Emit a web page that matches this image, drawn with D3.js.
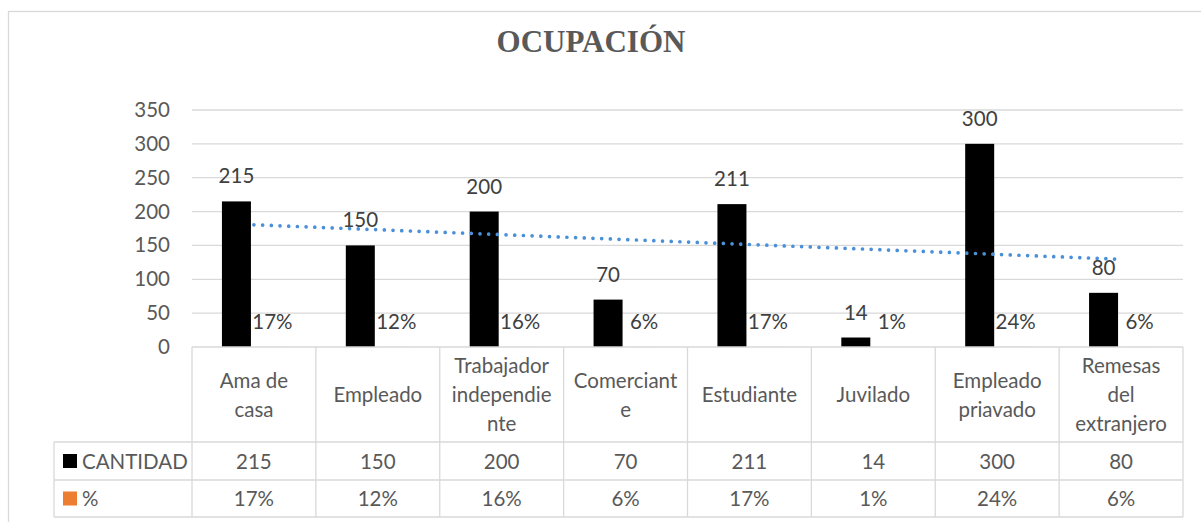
<!DOCTYPE html>
<html lang="es">
    <head>
        <meta charset="utf-8">
        <title>Ocupación</title>
        <script type="text/javascript" src="https://d3js.org/d3.v7.min.js"></script>
    </head>
	<style>
		body { margin: 0; background: #fff; }
		text { font-family: Lato, "Open Sans", sans-serif; }
	</style>
    <body>

        <script type="text/javascript">

			// data
			var categories = ["Ama de casa", "Empleado", "Trabajador independiente", "Comerciante",
			                  "Estudiante", "Juvilado", "Empleado priavado", "Remesas del extranjero"];
			// how the category names are wrapped in the table header
			var categoryLines = [["Ama de", "casa"], ["Empleado"], ["Trabajador", "independie", "nte"],
			                     ["Comerciant", "e"], ["Estudiante"], ["Juvilado"],
			                     ["Empleado", "priavado"], ["Remesas", "del", "extranjero"]];
			var cantidad = [215, 150, 200, 70, 211, 14, 300, 80];
			var porcentaje = [0.17, 0.12, 0.16, 0.06, 0.17, 0.01, 0.24, 0.06];
			var seriesNames = ["CANTIDAD", "%"];
			var seriesColors = ["#000000", "#ED7D31"];
			var yTicks = [0, 50, 100, 150, 200, 250, 300, 350];

			var w = 1201,
				h = 522,
				plotLeft = 192,
				plotRight = 1183,
				plotTop = 110,
				plotBottom = 347,
				legendLeft = 54,
				rowTops = [347, 442, 480, 517],
				textColor = "#595959",
				gridColor = "#D9D9D9";

			var svg = d3.select("body")
						.append("svg")
						.attr("width", w)
						.attr("height", h);

			// outer chart frame
			svg.append("rect")
				.attr("x", 8.5)
				.attr("y", 11.5)
				.attr("width", w)
				.attr("height", h)
				.attr("fill", "none")
				.attr("stroke", gridColor)
				.attr("stroke-width", 1.3);

			svg.append("text")
				.attr("x", 591)
				.attr("y", 52)
				.attr("text-anchor", "middle")
				.style("font-family", "'Liberation Serif', 'Times New Roman', serif")
				.style("font-weight", "bold")
				.style("font-size", "31px")
				.attr("fill", textColor)
				.text("OCUPACIÓN");

			var x = d3.scaleBand()
						.domain(categories)
						.range([plotLeft, plotRight]);

			var x1 = d3.scaleBand()
						.domain(seriesNames)
						.range([-32, 32])
						.paddingInner(6 / 35);

			var y = d3.scaleLinear()
						.domain([0, 350])
						.range([plotBottom, plotTop]);

			// gridlines
			svg.append("g")
				.selectAll("line")
				.data(yTicks.slice(1))
				.enter()
				.append("line")
				.attr("x1", plotLeft)
				.attr("x2", plotRight)
				.attr("y1", function(d) { return y(d); })
				.attr("y2", function(d) { return y(d); })
				.attr("stroke", gridColor)
				.attr("stroke-width", 1.3);

			var yAxis = svg.append("g")
							.attr("transform", "translate(" + plotLeft + ",0)")
							.call(d3.axisLeft(y).tickValues(yTicks).tickSize(0).tickPadding(22));
			yAxis.select(".domain").remove();
			yAxis.selectAll("text")
				.attr("fill", textColor)
				.style("font-family", "Lato, sans-serif")
				.style("font-size", "20.5px");

			var seriesData = [cantidad, porcentaje];

			var groups = svg.append("g")
							.selectAll("g")
							.data(categories)
							.enter()
							.append("g")
							.attr("transform", function(d) { return "translate(" + (x(d) + x.bandwidth() / 2) + ",0)"; });

			groups.selectAll("rect")
				.data(function(d, i) {
					return seriesNames.map(function(s, j) { return {s: s, j: j, v: seriesData[j][i]}; });
				})
				.enter()
				.append("rect")
				.attr("x", function(d) { return x1(d.s); })
				.attr("width", x1.bandwidth())
				.attr("y", function(d) { return y(d.v); })
				.attr("height", function(d) { return y(0) - y(d.v); })
				.attr("fill", function(d) { return seriesColors[d.j]; });

			var pctFormat = d3.format(".0%");

			groups.selectAll(".lbl")
				.data(function(d, i) {
					return seriesNames.map(function(s, j) { return {s: s, j: j, v: seriesData[j][i]}; });
				})
				.enter()
				.append("text")
				.attr("class", "lbl")
				.attr("x", function(d) { return x1(d.s) + x1.bandwidth() / 2 + (d.j == 1 ? 1 : 0); })
				.attr("y", function(d) { return y(d.v) - 18; })
				.attr("text-anchor", "middle")
				.attr("fill", "#404040")
				.style("font-size", "20.5px")
				.text(function(d) { return d.j == 1 ? pctFormat(d.v) : d.v; });

			// linear trendline for CANTIDAD
			var n = cantidad.length,
				xs = d3.range(1, n + 1),
				mx = d3.mean(xs),
				my = d3.mean(cantidad),
				slope = d3.sum(xs, function(k, i) { return (k - mx) * (cantidad[i] - my); }) /
						d3.sum(xs, function(k) { return (k - mx) * (k - mx); }),
				intercept = my - slope * mx;

			var trendLine = d3.line()
							.x(function(d, i) { return x(categories[i]) + x.bandwidth() / 2; })
							.y(function(d) { return y(intercept + slope * d); });

			svg.append("path")
				.datum(xs)
				.attr("d", trendLine)
				.attr("fill", "none")
				.attr("stroke", "#4A90D9")
				.attr("stroke-width", 3.7)
				.attr("stroke-linecap", "round")
				.attr("stroke-dasharray", "0 8.7");

			// data table below the axis
			var table = svg.append("g")
							.attr("stroke", gridColor)
							.attr("stroke-width", 1.3);

			table.append("line")
				.attr("x1", plotLeft).attr("x2", plotRight)
				.attr("y1", rowTops[0]).attr("y2", rowTops[0]);
			rowTops.slice(1).forEach(function(t) {
				table.append("line")
					.attr("x1", legendLeft).attr("x2", plotRight)
					.attr("y1", t).attr("y2", t);
			});
			table.append("line")
				.attr("x1", legendLeft).attr("x2", legendLeft)
				.attr("y1", rowTops[1]).attr("y2", rowTops[3]);
			table.selectAll(".col")
				.data(categories.concat(["end"]))
				.enter()
				.append("line")
				.attr("x1", function(d) { return d == "end" ? plotRight : x(d); })
				.attr("x2", function(d) { return d == "end" ? plotRight : x(d); })
				.attr("y1", rowTops[0])
				.attr("y2", rowTops[3]);

			// header row with wrapped category names
			var headerMid = (rowTops[0] + rowTops[1]) / 2,
				lineH = 29;
			var header = svg.append("g")
							.selectAll("text")
							.data(categories)
							.enter()
							.append("text")
							.attr("text-anchor", "middle")
							.attr("fill", textColor)
							.style("font-size", "20.5px");
			header.each(function(d, i) {
				var lines = categoryLines[i];
				var first = headerMid + 7.5 - (lines.length - 1) * lineH / 2;
				d3.select(this).selectAll("tspan")
					.data(lines)
					.enter()
					.append("tspan")
					.attr("x", x(d) + x.bandwidth() / 2)
					.attr("y", function(l, k) { return first + k * lineH; })
					.text(function(l) { return l; });
			});

			// value rows
			seriesNames.forEach(function(s, j) {
				var mid = (rowTops[j + 1] + rowTops[j + 2]) / 2;
				svg.append("rect")
					.attr("x", 63)
					.attr("y", mid - 7)
					.attr("width", 14)
					.attr("height", 14)
					.attr("fill", seriesColors[j]);
				svg.append("text")
					.attr("x", 82)
					.attr("y", mid + 7.5)
					.attr("fill", textColor)
					.style("font-size", "20.5px")
					.text(s);
				svg.append("g")
					.selectAll("text")
					.data(categories)
					.enter()
					.append("text")
					.attr("x", function(d) { return x(d) + x.bandwidth() / 2; })
					.attr("y", mid + 7.5)
					.attr("text-anchor", "middle")
					.attr("fill", textColor)
					.style("font-size", "20.5px")
					.text(function(d, i) { return j == 1 ? pctFormat(seriesData[j][i]) : seriesData[j][i]; });
			});

        </script>
    </body>
</html>
